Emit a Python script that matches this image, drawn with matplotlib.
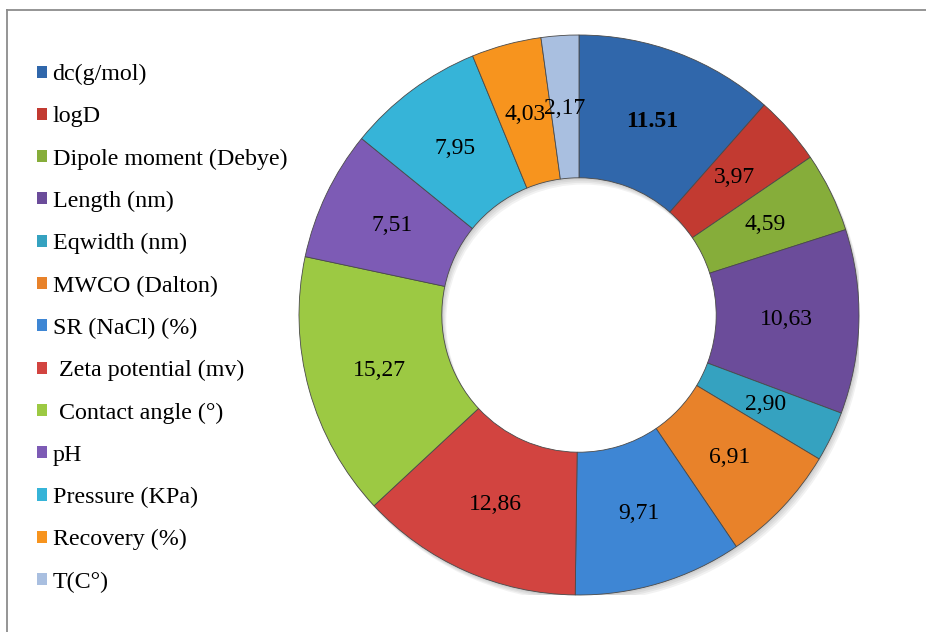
import matplotlib
matplotlib.use("Agg")
import numpy as np
import matplotlib.pyplot as plt
from matplotlib.lines import Line2D
from matplotlib.patches import Wedge

# parameter shares (%) and their labels, in clockwise order from the top
categories = ["dc(g/mol)", "logD", "Dipole moment (Debye)", "Length (nm)",
              "Eqwidth (nm)", "MWCO (Dalton)", "SR (NaCl) (%)",
              " Zeta potential (mv)", " Contact angle (°)", "pH",
              "Pressure (KPa)", "Recovery (%)", "T(C°)"]
values = [11.51, 3.97, 4.59, 10.63, 2.90, 6.91, 9.71,
          12.86, 15.27, 7.51, 7.95, 4.03, 2.17]
value_labels = ["11.51", "3,97", "4,59", "10,63", "2,90", "6,91", "9,71",
                "12,86", "15,27", "7,51", "7,95", "4,03", "2,17"]

colors = ["#3067AB", "#C23A31", "#86AD3A", "#6B4C9A", "#35A2C0", "#E8822A",
          "#3E86D4", "#D24440", "#9CC943", "#7D5BB5", "#36B4D8", "#F7941E",
          "#A9BFE0"]

plt.rcParams["font.family"] = ["Liberation Serif", "DejaVu Serif"]

W, H = 926, 632
fig = plt.figure(figsize=(W / 100, H / 100), dpi=100)

# outer frame of the chart area
frame = dict(color="#8c8c8c", lw=1.3)
fig.add_artist(Line2D([7 / W, 1], [1 - 10 / H, 1 - 10 / H], **frame))
fig.add_artist(Line2D([7 / W, 7 / W], [0, 1 - 10 / H], **frame))

cx, cy, r = 579, 315, 280
ax = fig.add_axes([(cx - r) / W, (H - cy - r) / H, 2 * r / W, 2 * r / H])

# soft shadow under the ring
for k in range(4):
    d = 0.004 * (k + 1)
    ax.add_patch(Wedge((d, -1.5 * d), 1.0, 0, 360, width=0.51,
                       facecolor="black", edgecolor="none", alpha=0.05,
                       zorder=0))

wedges, _ = ax.pie(values, colors=colors, startangle=90, counterclock=False,
                   radius=1.0,
                   wedgeprops=dict(width=0.51, edgecolor="#4a4a4a",
                                   linewidth=0.6, zorder=2))
ax.set_xlim(-1, 1)
ax.set_ylim(-1, 1)
ax.set_aspect("equal")

# value labels in the middle of the ring
for w, lab in zip(wedges, value_labels):
    ang = np.deg2rad((w.theta1 + w.theta2) / 2)
    rr = 0.74
    ax.text(rr * np.cos(ang), rr * np.sin(ang), lab, ha="center",
            va="center", fontsize=17, color="black", zorder=3,
            fontweight="bold" if lab == "11.51" else "normal")

leg = fig.legend(wedges, categories, loc="upper left",
                 bbox_to_anchor=(37 / W, 1 - 64 / H), frameon=False,
                 fontsize=17.3, handlelength=0.4, handleheight=0.4,
                 handletextpad=0.25, labelspacing=0.88, borderaxespad=0,
                 borderpad=0)
for h in leg.legend_handles:
    h.set_edgecolor("none")

fig.savefig("out.png", dpi=100)
